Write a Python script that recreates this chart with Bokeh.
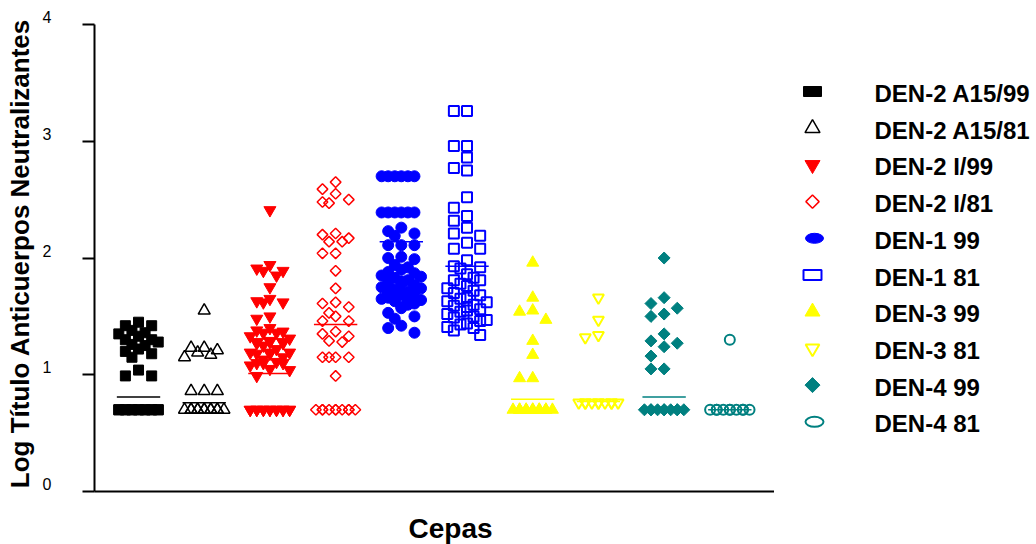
from bokeh.plotting import figure
from bokeh.layouts import row, column
from bokeh.models import ColumnDataSource, FixedTicker, LinearAxis, Range1d
from bokeh.core.properties import value
from bokeh.embed import file_html
from bokeh.resources import INLINE

# Strains (one column each) in plotting order
cepas = ["DEN-2 A15/99", "DEN-2 A15/81", "DEN-2 I/99", "DEN-2 I/81",
         "DEN-1 99", "DEN-1 81", "DEN-3 99", "DEN-3 81",
         "DEN-4 99", "DEN-4 81"]

# y axis ticks
y_ticks = [0, 1, 2, 3, 4]

# Log neutralizing antibody titers per serum, by strain
den2_a15_99 = [1.45, 1.42, 1.42, 1.38, 1.36, 1.35, 1.33, 1.30, 1.30, 1.28,
               1.26, 1.25, 1.22, 1.20, 1.18, 1.15, 1.04, 0.99, 0.99,
               0.70, 0.70, 0.70, 0.70, 0.70, 0.70, 0.70, 0.70, 0.70, 0.70,
               0.70, 0.70, 0.70, 0.70]
den2_a15_81 = [1.55, 1.23, 1.23, 1.21, 1.19, 1.17, 1.15, 0.86, 0.86, 0.86,
               0.70, 0.70, 0.70, 0.70, 0.70, 0.70, 0.70, 0.70, 0.70, 0.70,
               0.70, 0.70]
den2_i_99 = [2.41, 1.94, 1.91, 1.89, 1.89, 1.85, 1.75, 1.65, 1.63, 1.62,
             1.62, 1.50, 1.48, 1.40, 1.38, 1.37, 1.36, 1.36, 1.33, 1.31,
             1.29, 1.28, 1.28, 1.28, 1.27, 1.27, 1.25, 1.22, 1.19, 1.19,
             1.19, 1.18, 1.18, 1.15, 1.13, 1.11, 1.10, 1.10, 1.10, 1.08,
             1.05, 1.04, 0.99,
             0.70, 0.70, 0.70, 0.70, 0.70, 0.70, 0.70, 0.70, 0.70, 0.70,
             0.70, 0.70, 0.70, 0.70]
den2_i_81 = [2.65, 2.59, 2.55, 2.50, 2.48, 2.47, 2.21, 2.20, 2.17, 2.14,
             2.14, 2.04, 2.04, 1.89, 1.74, 1.62, 1.61, 1.58, 1.53, 1.50,
             1.46, 1.46, 1.37, 1.35, 1.33, 1.29, 1.28, 1.15, 1.15, 1.15,
             1.15, 0.99,
             0.70, 0.70, 0.70, 0.70, 0.70, 0.70, 0.70, 0.70, 0.70, 0.70]
den1_99 = [2.70, 2.70, 2.70, 2.70, 2.70, 2.70, 2.39, 2.39, 2.39, 2.39,
           2.39, 2.39, 2.26, 2.23, 2.21, 2.19, 2.11, 2.11, 2.11, 2.01,
           2.00, 1.99, 1.94, 1.92, 1.90, 1.88, 1.87, 1.85, 1.84, 1.83,
           1.81, 1.80, 1.80, 1.78, 1.77, 1.76, 1.75, 1.74, 1.73, 1.72,
           1.71, 1.70, 1.70, 1.69, 1.68, 1.67, 1.66, 1.65, 1.64, 1.63,
           1.62, 1.61, 1.60, 1.58, 1.57, 1.53, 1.50, 1.48, 1.42, 1.40,
           1.36]
den1_81 = [3.26, 3.26, 2.96, 2.96, 2.86, 2.77, 2.75, 2.52, 2.43, 2.36,
           2.32, 2.26, 2.21, 2.19, 2.13, 2.08, 2.08, 1.98, 1.93, 1.92,
           1.91, 1.86, 1.83, 1.81, 1.81, 1.78, 1.76, 1.74, 1.72, 1.70,
           1.68, 1.66, 1.65, 1.63, 1.62, 1.60, 1.59, 1.58, 1.56, 1.55,
           1.54, 1.52, 1.50, 1.49, 1.47, 1.46, 1.44, 1.43, 1.41, 1.40,
           1.38, 1.34]
den3_99 = [1.96, 1.66, 1.55, 1.54, 1.47, 1.29, 1.17, 0.97, 0.97,
           0.70, 0.70, 0.70, 0.70, 0.70, 0.70, 0.70, 0.70, 0.70, 0.70,
           0.70, 0.70]
den3_81 = [1.66, 1.47, 1.34, 1.32,
           0.76, 0.76, 0.76, 0.76, 0.76, 0.76, 0.76, 0.76, 0.76, 0.76]
den4_99 = [2.00, 1.66, 1.61, 1.57, 1.52, 1.50, 1.35, 1.29, 1.27, 1.24,
           1.16, 1.05, 1.05,
           0.70, 0.70, 0.70, 0.70, 0.70, 0.70, 0.70, 0.70, 0.70, 0.70]
den4_81 = [1.30,
           0.70, 0.70, 0.70, 0.70, 0.70, 0.70, 0.70, 0.70, 0.70, 0.70]

series = [den2_a15_99, den2_a15_81, den2_i_99, den2_i_81, den1_99,
          den1_81, den3_99, den3_81, den4_99, den4_81]

# Group means (horizontal bars)
medias = [0.81, 0.76, 1.01, 1.43, 2.14, 1.93, 0.79, 0.77, 0.81, 0.70]

TEAL = "#008080"
DIAMOND = 0.785398  # a square turned 45 degrees
# marker, fill colour, line colour, size, line width, angle
estilos = [
    ("square", "black", "black", 10, 1, 0.0),
    ("triangle", None, "black", 12, 1.5, 0.0),
    ("inverted_triangle", "red", "red", 12, 1, 0.0),
    ("square", None, "red", 7.5, 1.5, DIAMOND),
    ("circle", "blue", "blue", 11, 1, 0.0),
    ("square", None, "blue", 10, 2, 0.0),
    ("triangle", "yellow", "yellow", 12, 1, 0.0),
    ("inverted_triangle", None, "yellow", 11, 2, 0.0),
    ("square", TEAL, TEAL, 8.5, 1, DIAMOND),
    ("circle", None, TEAL, 10, 2, 0.0),
]

SLOTS = [0.0, -0.2, 0.2, -0.1, 0.1, -0.3, 0.3, -0.05, 0.05, -0.15, 0.15,
         -0.25, 0.25]


def spread(values):
    """Column-scatter placement: side-step points that would overlap."""
    placed = []
    offsets = []
    for v in values:
        best, best_hits = None, None
        for s in SLOTS:
            hits = sum(1 for (px, py) in placed
                       if abs(px - s) < 0.09 and abs(py - v) < 0.1)
            if hits == 0:
                best = s
                break
            if best_hits is None or hits < best_hits:
                best, best_hits = s, hits
        placed.append((best, v))
        offsets.append(best)
    return offsets


FONT = "Liberation Sans"
PAGE_H = 544
UPPER_H = 505                     # plot + key; the axis name goes underneath
AX_TOP, AX_BOTTOM = 24, 491       # page rows of y = 4 and y = 0
TOP = 15                          # a little headroom above y = 4 for its number
PX_PER_UNIT = (AX_BOTTOM - AX_TOP) / (y_ticks[-1] - y_ticks[0])
Y_MAX = y_ticks[-1] + (AX_TOP - TOP) / PX_PER_UNIT
BOTTOM = UPPER_H - AX_BOTTOM
X0, X1 = 0.33, 10.68

p = figure(width=774, height=UPPER_H, output_backend="svg",
           toolbar_location=None,
           x_range=Range1d(X0, X1), y_range=Range1d(0, Y_MAX),
           min_border_left=94, min_border_right=0,
           min_border_top=TOP, min_border_bottom=BOTTOM)
p.outline_line_color = None
p.xgrid.visible = False
p.ygrid.visible = False

# y axis: line and tick marks (as minor ticks, so no numbers here)
yax = p.yaxis[0]
yax.ticker = FixedTicker(ticks=[], minor_ticks=y_ticks)
yax.bounds = (y_ticks[0], y_ticks[-1])
yax.major_tick_line_color = None
yax.major_tick_in = 0
yax.major_tick_out = 0
yax.minor_tick_in = 0
yax.minor_tick_out = 12
yax.minor_tick_line_width = 2
yax.minor_tick_line_color = "black"
yax.axis_line_width = 2
yax.major_label_standoff = 0

# tick numbers sit a little above their tick marks
LIFT = 0.0625
ylab = LinearAxis(ticker=FixedTicker(ticks=[t + LIFT for t in y_ticks]),
                  major_label_overrides={t + LIFT: str(t) for t in y_ticks},
                  bounds=(y_ticks[0] + LIFT, y_ticks[-1] + LIFT))
ylab.axis_line_color = None
ylab.major_tick_line_color = None
ylab.minor_tick_line_color = None
ylab.major_tick_in = 0
ylab.major_tick_out = 0
ylab.major_label_standoff = 31
ylab.major_label_text_font = FONT
ylab.major_label_text_font_size = "16px"
ylab.major_label_text_color = "black"
ylab.axis_label = "Log Título Anticuerpos Neutralizantes"
ylab.axis_label_text_font = FONT
ylab.axis_label_text_font_style = "bold"
ylab.axis_label_text_font_size = "26px"
ylab.axis_label_text_color = "black"
ylab.axis_label_standoff = 5
p.add_layout(ylab, "left")

# x axis: plain baseline only
xax = p.xaxis[0]
xax.ticker = FixedTicker(ticks=[])
xax.major_tick_line_color = None
xax.minor_tick_line_color = None
xax.major_tick_in = 0
xax.major_tick_out = 0
xax.major_label_standoff = 0
xax.axis_line_width = 2

for i, (vals, est) in enumerate(zip(series, estilos)):
    marker, fill, line, size, lw, ang = est
    vs = sorted(vals, reverse=True)
    offs = spread(vs)
    src = ColumnDataSource(dict(x=[i + 1 + o for o in offs], y=vs))
    p.scatter("x", "y", source=src, marker=marker, size=size, angle=ang,
              fill_color=fill if fill else "white",
              fill_alpha=1.0 if fill else 0.0,
              line_color=line, line_width=lw)

# mean bars
bar_colors = ["black", "black", "red", "red", "blue", "blue",
              "yellow", "yellow", TEAL, TEAL]
pos = [i + 1 for i in range(len(medias))]
p.segment(x0=[c - 0.33 for c in pos], x1=[c + 0.33 for c in pos],
          y0=medias, y1=medias, line_color=bar_colors, line_width=1.5)

# key panel to the right of the plot; its frame shares the plot's top and
# bottom, and its y coordinate equals the page pixel row
q = figure(width=262, height=UPPER_H, output_backend="svg",
           toolbar_location=None,
           x_range=Range1d(0, 262), y_range=Range1d(AX_BOTTOM, TOP),
           x_axis_location=None, y_axis_location=None,
           min_border_left=0, min_border_right=0,
           min_border_top=TOP, min_border_bottom=BOTTOM)
q.outline_line_color = None
q.xgrid.visible = False
q.ygrid.visible = False

ROW0, PITCH = 93, 36.7
for i, est in enumerate(estilos):
    marker, fill, line, size, lw, ang = est
    yk = ROW0 + PITCH * i - 2
    fc = fill if fill else "white"
    fa = 1.0 if fill else 0.0
    if marker == "square" and ang == 0.0:
        q.rect(x=[38], y=[yk], width=18, height=10, width_units="screen",
               height_units="screen", fill_color=fc, fill_alpha=fa,
               line_color=line, line_width=lw)
    elif marker == "circle":
        q.ellipse(x=[40], y=[yk], width=18, height=10, width_units="screen",
                  height_units="screen", fill_color=fc, fill_alpha=fa,
                  line_color=line, line_width=lw)
    else:
        q.scatter(x=[38], y=[yk], marker=marker, size=size * 1.25,
                  angle=ang, fill_color=fc, fill_alpha=fa,
                  line_color=line, line_width=lw)

q.text(x=[100] * len(cepas), y=[ROW0 + PITCH * i for i in range(len(cepas))],
       text=cepas, text_font=value(FONT), text_font_style="bold",
       text_font_size="24px", text_baseline="middle", text_align="left",
       text_color="black")

# strip under the plot carrying the axis name (page pixel coordinates)
r = figure(width=1036, height=PAGE_H - UPPER_H, output_backend="svg",
           toolbar_location=None,
           x_range=Range1d(0, 1036), y_range=Range1d(PAGE_H, UPPER_H),
           x_axis_location=None, y_axis_location=None, min_border=0)
r.outline_line_color = None
r.xgrid.visible = False
r.ygrid.visible = False
r.text(x=[450], y=[528], text=["Cepas"], text_font=value(FONT),
       text_font_style="bold", text_font_size="28px", text_align="center",
       text_baseline="middle", text_color="black")

layout = column(row(p, q, spacing=0), r, spacing=0)
open("out.html", "w").write(file_html(layout, INLINE))
